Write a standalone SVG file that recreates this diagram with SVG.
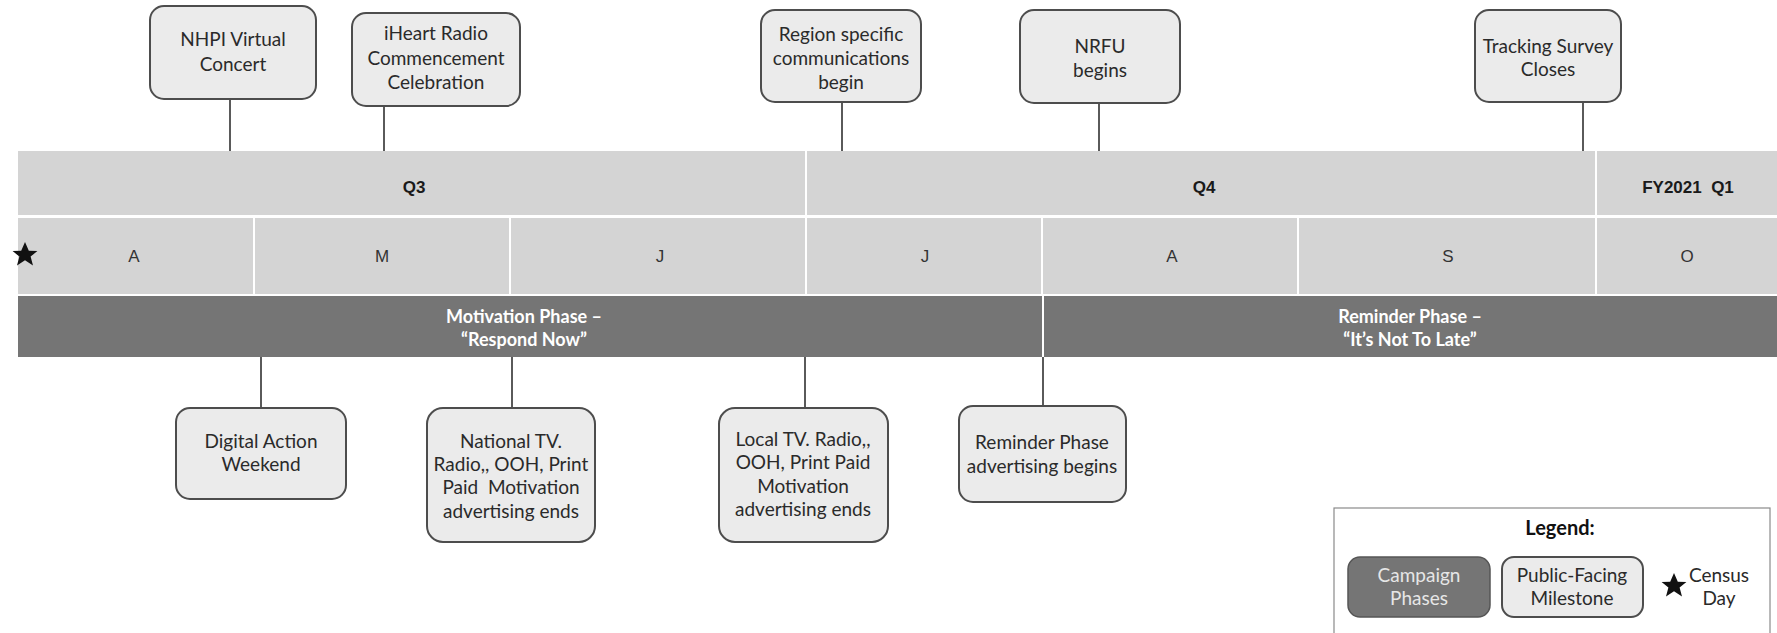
<svg xmlns="http://www.w3.org/2000/svg" width="1777" height="633" viewBox="0 0 1777 633">
<style>
.band{fill:#d4d4d4}
.phase{fill:#757575}
.ms{fill:#ebebeb;stroke:#4d4d4d;stroke-width:2}
.conn{stroke:#5a5a5a;stroke-width:2;fill:none}
.q{font-family:"Liberation Sans",Arial,sans-serif;font-weight:bold;font-size:17px;fill:#1a1a1a;text-anchor:middle}
.m{font-family:"Liberation Sans",Arial,sans-serif;font-size:17px;fill:#333;text-anchor:middle}
.t{font-family:Lato,"Open Sans",sans-serif;font-size:19px;fill:#2a2a2a;text-anchor:middle}
.pt{font-family:Lato,"Open Sans",sans-serif;font-weight:bold;font-size:18px;fill:#ffffff;text-anchor:middle}
.lg{font-family:Lato,"Open Sans",sans-serif;font-weight:bold;font-size:20px;fill:#111;text-anchor:middle}
</style>
<defs>
<path id="star" d="M0,-13 L3.8,-4.2 L12.4,-4 L5.6,1.6 L8,10.5 L0,5.3 L-8,10.5 L-5.6,1.6 L-12.4,-4 L-3.8,-4.2 Z" fill="#111"/>
</defs>
<rect width="1777" height="633" fill="#ffffff"/>

<g id="quarters">
<rect class="band" x="18" y="151" width="787" height="64"/>
<rect class="band" x="807" y="151" width="788" height="64"/>
<rect class="band" x="1597" y="151" width="180" height="64"/>
<text class="q" x="414" y="193">Q3</text>
<text class="q" x="1204" y="193">Q4</text>
<text class="q" x="1688" y="193" xml:space="preserve">FY2021  Q1</text>
</g>

<g id="months">
<rect class="band" x="18" y="218" width="235" height="76"/>
<rect class="band" x="255" y="218" width="254" height="76"/>
<rect class="band" x="511" y="218" width="294" height="76"/>
<rect class="band" x="807" y="218" width="234" height="76"/>
<rect class="band" x="1043" y="218" width="254" height="76"/>
<rect class="band" x="1299" y="218" width="296" height="76"/>
<rect class="band" x="1597" y="218" width="180" height="76"/>
<text class="m" x="134" y="262">A</text>
<text class="m" x="382" y="262">M</text>
<text class="m" x="660" y="262">J</text>
<text class="m" x="925" y="262">J</text>
<text class="m" x="1172" y="262">A</text>
<text class="m" x="1448" y="262">S</text>
<text class="m" x="1687" y="262">O</text>
</g>

<g id="census-day-star"><use href="#star" x="25" y="255"/></g>

<g id="phases">
<rect class="phase" x="18" y="296" width="1024" height="61"/>
<rect class="phase" x="1044" y="296" width="733" height="61"/>
<text class="pt" x="524" y="323">Motivation Phase –</text>
<text class="pt" x="524" y="346">“Respond Now”</text>
<text class="pt" x="1410" y="323">Reminder Phase –</text>
<text class="pt" x="1410" y="346">“It’s Not To Late”</text>
</g>

<g id="connectors">
<line class="conn" x1="230" y1="99" x2="230" y2="151"/>
<line class="conn" x1="384" y1="106" x2="384" y2="151"/>
<line class="conn" x1="842" y1="102" x2="842" y2="151"/>
<line class="conn" x1="1099" y1="103" x2="1099" y2="151"/>
<line class="conn" x1="1583" y1="102" x2="1583" y2="151"/>
<line class="conn" x1="261" y1="357" x2="261" y2="408"/>
<line class="conn" x1="512" y1="357" x2="512" y2="408"/>
<line class="conn" x1="805" y1="357" x2="805" y2="408"/>
<line class="conn" x1="1043" y1="357" x2="1043" y2="406"/>
</g>

<g id="nhpi">
<rect class="ms" x="150" y="6" width="166" height="93" rx="14"/>
<text class="t" x="233" y="46">NHPI Virtual</text>
<text class="t" x="233" y="71">Concert</text>
</g>
<g id="iheart">
<rect class="ms" x="352" y="13" width="168" height="93" rx="14"/>
<text class="t" x="436" y="40">iHeart Radio</text>
<text class="t" x="436" y="65">Commencement</text>
<text class="t" x="436" y="89">Celebration</text>
</g>
<g id="region">
<rect class="ms" x="761" y="10" width="160" height="92" rx="14"/>
<text class="t" x="841" y="41">Region specific</text>
<text class="t" x="841" y="65">communications</text>
<text class="t" x="841" y="89">begin</text>
</g>
<g id="nrfu">
<rect class="ms" x="1020" y="10" width="160" height="93" rx="14"/>
<text class="t" x="1100" y="53">NRFU</text>
<text class="t" x="1100" y="77">begins</text>
</g>
<g id="tracking">
<rect class="ms" x="1475" y="10" width="146" height="92" rx="14"/>
<text class="t" x="1548" y="53">Tracking Survey</text>
<text class="t" x="1548" y="76">Closes</text>
</g>

<g id="digital">
<rect class="ms" x="176" y="408" width="170" height="91" rx="14"/>
<text class="t" x="261" y="448">Digital Action</text>
<text class="t" x="261" y="471">Weekend</text>
</g>
<g id="national">
<rect class="ms" x="427" y="408" width="168" height="134" rx="16"/>
<text class="t" x="511" y="448">National TV.</text>
<text class="t" x="511" y="471">Radio,, OOH, Print</text>
<text class="t" x="511" y="494" xml:space="preserve">Paid  Motivation</text>
<text class="t" x="511" y="518">advertising ends</text>
</g>
<g id="local">
<rect class="ms" x="719" y="408" width="169" height="134" rx="16"/>
<text class="t" x="803" y="446">Local TV. Radio,,</text>
<text class="t" x="803" y="469">OOH, Print Paid</text>
<text class="t" x="803" y="493">Motivation</text>
<text class="t" x="803" y="516">advertising ends</text>
</g>
<g id="reminder">
<rect class="ms" x="959" y="406" width="167" height="96" rx="14"/>
<text class="t" x="1042" y="449">Reminder Phase</text>
<text class="t" x="1042" y="473">advertising begins</text>
</g>

<g id="legend">
<rect x="1334" y="508" width="436" height="140" fill="#ffffff" stroke="#8a8a8a" stroke-width="1.2"/>
<text class="lg" x="1560" y="535">Legend:</text>
<rect class="phase" x="1348" y="557" width="142" height="60" rx="12" stroke="#555" stroke-width="1.5"/>
<text class="t" x="1419" y="582" style="fill:#e6e6e6">Campaign</text>
<text class="t" x="1419" y="605" style="fill:#e6e6e6">Phases</text>
<rect class="ms" x="1502" y="557" width="141" height="60" rx="12"/>
<text class="t" x="1572" y="582">Public-Facing</text>
<text class="t" x="1572" y="605">Milestone</text>
<use href="#star" x="1674" y="586"/>
<text class="t" x="1719" y="582">Census</text>
<text class="t" x="1719" y="605">Day</text>
</g>
</svg>
